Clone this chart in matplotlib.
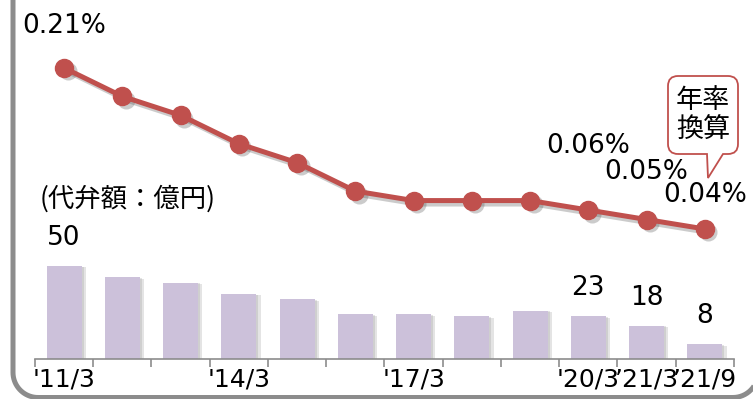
import numpy as np
import matplotlib.pyplot as plt
from matplotlib.patches import PathPatch
from matplotlib.path import Path
from matplotlib.lines import Line2D
from matplotlib.transforms import Affine2D, ScaledTranslation
import matplotlib.patheffects as pe

# データ
periods = ["'11/3", "", "", "'14/3", "", "", "'17/3", "", "", "'20/3", "’21/3", "’21/9"]
amounts = [50, 44, 41, 35, 32, 24, 24, 23, 26, 23, 18, 8]  # 代弁額（億円）
rates = [0.21, 0.18, 0.16, 0.13, 0.11, 0.08, 0.07, 0.07, 0.07, 0.06, 0.05, 0.04]  # 代弁率（%）
amount_labels = {0: "50", 9: "23", 10: "18", 11: "8"}
rate_labels = {0: "0.21%", 9: "0.06%", 10: "0.05%", 11: "0.04%"}

RED = "#C0504D"
BAR = "#CCC1DA"
GRAY = "#8C8C8C"
W, H = 753, 399
JP = ["Noto Sans CJK JP", "DejaVu Sans"]

plt.rcParams['font.family'] = ["DejaVu Sans", "Noto Sans CJK JP"]

fig = plt.figure(figsize=(W / 100, H / 100), dpi=100)
ax = fig.add_axes([35 / W, 40 / H, 699 / W, 359 / H])
ax2 = ax.twinx()
px = Affine2D().scale(1 / W, 1 / H) + fig.transFigure  # ピクセル座標（左下原点）

x = list(range(len(amounts)))

# 棒グラフ（代弁額）
bars = ax.bar(x, amounts, width=0.6, color=BAR, zorder=2)
for b in bars:
    b.set_path_effects([pe.SimplePatchShadow(offset=(3, -1), shadow_rgbFace="#888888", alpha=0.22),
                        pe.SimplePatchShadow(offset=(1.5, -0.5), shadow_rgbFace="#888888", alpha=0.22),
                        pe.Normal()])
for i, t in amount_labels.items():
    ax.annotate(t, (x[i], amounts[i]), xytext=(0, 15), textcoords="offset points",
                ha="center", va="baseline", fontsize=19)

ax.set_xlim(-0.5, len(amounts) - 0.5)
ax.set_ylim(0, 193)
for s in ["top", "left", "right"]:
    ax.spines[s].set_visible(False)
ax.spines["bottom"].set_color(GRAY)
ax.spines["bottom"].set_linewidth(1.2)
ax.set_yticks([])
ax.set_xticks(x)
ax.set_xticklabels(periods, fontsize=18)
ax.set_xticks([i - 0.5 for i in range(len(amounts) + 1)], minor=True)
ax.tick_params(axis="x", which="major", length=0, pad=6)
ax.tick_params(axis="x", which="minor", length=6, width=1.2, color=GRAY)

# 折れ線グラフ（代弁率）
shadow = ax2.transData + ScaledTranslation(2.5 / 72, -2.5 / 72, fig.dpi_scale_trans)
ax2.plot(x, rates, color="#555555", alpha=0.3, lw=3.6, marker="o", markersize=13,
         markeredgewidth=0, transform=shadow, zorder=2)
ax2.plot(x, rates, color=RED, lw=3.6, marker="o", markersize=13, zorder=3)
offsets = {0: 25, 9: 41, 10: 29, 11: 19.5}
for i, t in rate_labels.items():
    ax2.annotate(t, (x[i], rates[i]), xytext=(0, offsets[i]), textcoords="offset points",
                 ha="center", va="baseline", fontsize=19)
ax2.set_ylim(-0.0973, 0.2818)
ax2.set_yticks([])
for s in ax2.spines.values():
    s.set_visible(False)
ax2.set_xlim(-0.5, len(amounts) - 0.5)

fig.text(128 / W, 1 - 199 / H, "(代弁額：億円)", ha="center", va="center", fontsize=19, family=JP)

# 枠線（左と下、角丸）
xl, xr, yb, R = 13, 758, 1.5, 25
a1 = np.linspace(np.pi, 1.5 * np.pi, 20)
a2 = np.linspace(1.5 * np.pi, 1.85 * np.pi, 12)
fx = np.concatenate([[xl], xl + R + R * np.cos(a1), xr - R + R * np.cos(a2)])
fy = np.concatenate([[H + 10], yb + R + R * np.sin(a1), yb + R + R * np.sin(a2)])
fig.add_artist(Line2D(fx, fy, transform=px, color=GRAY, lw=3.6, solid_capstyle="butt"))

# 吹き出し「年率換算」
x0, x1, yt, yb2, r = 668, 738, H - 76, H - 154, 10
verts = [(x0 + r, yb2), (707, yb2), (708, H - 178), (723, yb2), (x1 - r, yb2),
         (x1, yb2), (x1, yb2 + r), (x1, yt - r), (x1, yt), (x1 - r, yt),
         (x0 + r, yt), (x0, yt), (x0, yt - r), (x0, yb2 + r), (x0, yb2), (x0 + r, yb2)]
codes = [Path.MOVETO, Path.LINETO, Path.LINETO, Path.LINETO, Path.LINETO,
         Path.CURVE3, Path.CURVE3, Path.LINETO, Path.CURVE3, Path.CURVE3,
         Path.LINETO, Path.CURVE3, Path.CURVE3, Path.LINETO, Path.CURVE3, Path.CURVE3]
bubble = PathPatch(Path(verts, codes), transform=px, fc="white", ec=RED, lw=1.3, zorder=5)
fig.add_artist(bubble)
fig.text(703 / W, 1 - 100 / H, "年率", ha="center", va="center", fontsize=19.5, family=JP, zorder=6)
fig.text(703 / W, 1 - 130 / H, "換算", ha="center", va="center", fontsize=19.5, family=JP, zorder=6)

fig.savefig("out.png", dpi=100)
